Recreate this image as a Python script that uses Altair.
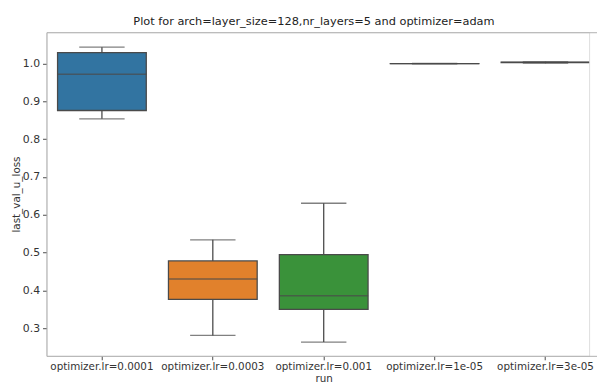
import altair as alt
import pandas as pd

runs = ["optimizer.lr=0.0001", "optimizer.lr=0.0003", "optimizer.lr=0.001",
        "optimizer.lr=1e-05", "optimizer.lr=3e-05"]
lower = [0.854, 0.281, 0.2635, 0.9995, 1.0012]
q1 = [0.876, 0.3765, 0.350, 0.9998, 1.0025]
median = [0.972, 0.4305, 0.386, 1.0, 1.0033]
q3 = [1.029, 0.478, 0.495, 1.0002, 1.0042]
upper = [1.0436, 0.534, 0.6306, 1.0005, 1.0048]
colors = ["#3274a1", "#e1812c", "#3a923a", "#c03d3e", "#9372b2"]
y_ticks = [0.3, 0.4, 0.5, 0.6, 0.7, 0.8, 0.9, 1.0]

df = pd.DataFrame({"run": runs, "lower": lower, "q1": q1, "median": median,
                   "q3": q3, "upper": upper})

FONT = "DejaVu Sans"
LINE = "#4a4a4a"
FRAME = "#b0b0b0"

xscale = alt.Scale(type="band", domain=runs, range=[0, 562],
                   paddingInner=0.2, paddingOuter=0.1)
yscale = alt.Scale(domain=[0.227, 1.083], nice=False, zero=False)

bottom_axis = alt.Axis(title="run", labelAngle=0, domainColor=FRAME, tickColor=LINE,
                       tickSize=4, labelColor="#333", labelFontSize=10.5,
                       titleFontSize=10.5, titleFontWeight="normal", titleColor="#333",
                       labelFont=FONT, titleFont=FONT, grid=False, labelPadding=2,
                       titlePadding=2)
top_axis = alt.Axis(orient="top", labels=False, ticks=False, title=None,
                    domainColor=FRAME, grid=False)
y_axis = alt.Axis(title="last_val_u_loss", values=y_ticks, format=".1f",
                  domainColor=FRAME, tickColor=LINE, tickSize=4, labelColor="#333",
                  labelFontSize=11, titleFontSize=10.5, titleFontWeight="normal",
                  titleColor="#333", labelFont=FONT, titleFont=FONT, grid=False,
                  labelPadding=3, titlePadding=1)

base = alt.Chart(df)

whisker = base.mark_rule(color=LINE, strokeWidth=1.3, clip=True).encode(
    x=alt.X("run:N", scale=xscale, axis=bottom_axis, sort=runs),
    y=alt.Y("lower:Q", scale=yscale, axis=y_axis),
    y2="upper:Q",
)
box = base.mark_bar(stroke=LINE, strokeWidth=1.3, clip=True).encode(
    x=alt.X("run:N", scale=xscale, axis=None, sort=runs),
    y=alt.Y("q1:Q", scale=yscale),
    y2="q3:Q",
    color=alt.Color("run:N", scale=alt.Scale(domain=runs, range=colors), legend=None),
)
med = base.mark_tick(color=LINE, thickness=1.5, size=90, clip=True).encode(
    x=alt.X("run:N", scale=xscale, axis=top_axis, sort=runs),
    y=alt.Y("median:Q", scale=yscale),
)
cap_lo = base.mark_tick(color=LINE, thickness=1.3, size=46, clip=True).encode(
    x=alt.X("run:N", scale=xscale, axis=None, sort=runs),
    y=alt.Y("lower:Q", scale=yscale),
)
cap_hi = base.mark_tick(color=LINE, thickness=1.3, size=46, clip=True).encode(
    x=alt.X("run:N", scale=xscale, axis=None, sort=runs),
    y=alt.Y("upper:Q", scale=yscale),
)

chart = alt.layer(whisker, box, med, cap_lo, cap_hi).resolve_axis(
    x="independent"
).resolve_scale(x="shared").properties(
    width=550, height=328,
    title=alt.TitleParams("Plot for arch=layer_size=128,nr_layers=5 and optimizer=adam",
                          anchor="start", frame="group", dx=88, offset=5,
                          fontSize=11.5, font=FONT, fontWeight="normal", color="#222"),
    autosize=alt.AutoSizeParams(type="none"),
    padding={"left": 39, "top": 22, "right": 8, "bottom": 28},
).configure_view(stroke=None).configure(background="white")

chart.save("out.html", embed_options={"renderer": "svg", "actions": False})
